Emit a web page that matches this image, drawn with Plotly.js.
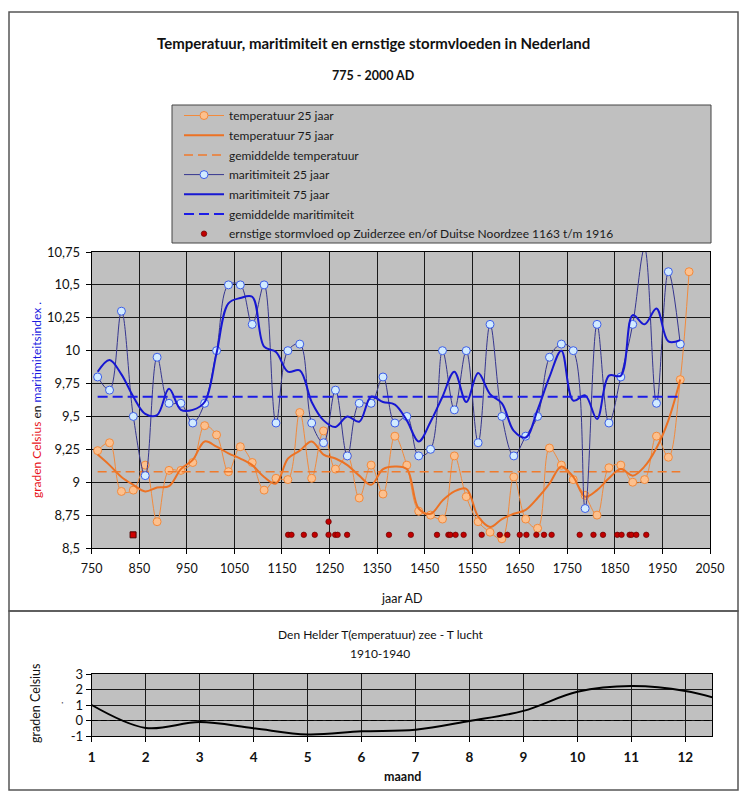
<!DOCTYPE html>
<html>
<head>
<meta charset="utf-8">
<script src="https://cdn.plot.ly/plotly-3.0.1.min.js"></script>
<style>html,body{margin:0;padding:0;background:#fff;}#chart{width:747px;height:800px;}</style>
</head>
<body>
<div id="chart"></div>
<script>
// ---------- data ----------
const years25 = [762.5, 787.5, 812.5, 837.5, 862.5, 887.5, 912.5, 937.5, 962.5, 987.5,
  1012.5, 1037.5, 1062.5, 1087.5, 1112.5, 1137.5, 1162.5, 1187.5, 1212.5, 1237.5,
  1262.5, 1287.5, 1312.5, 1337.5, 1362.5, 1387.5, 1412.5, 1437.5, 1462.5, 1487.5,
  1512.5, 1537.5, 1562.5, 1587.5, 1612.5, 1637.5, 1662.5, 1687.5, 1712.5, 1737.5,
  1762.5, 1787.5, 1812.5, 1837.5, 1862.5, 1887.5, 1912.5, 1937.5, 1962.5, 1987.5];
const tempYears = [762.5, 787.5, 812.5, 837.5, 862.5, 887.5, 912.5, 937.5, 962.5, 987.5,
  1012.5, 1037.5, 1062.5, 1087.5, 1112.5, 1137.5, 1162.5, 1187.5, 1212.5, 1237.5,
  1262.5, 1287.5, 1312.5, 1337.5, 1362.5, 1387.5, 1412.5, 1437.5, 1462.5, 1487.5,
  1512.5, 1537.5, 1562.5, 1587.5, 1612.5, 1637.5, 1662.5, 1687.5, 1712.5, 1737.5,
  1762.5, 1787.5, 1812.5, 1837.5, 1862.5, 1887.5, 1912.5, 1937.5, 1962.5, 1987.5, 2006];
const temp25 = [9.24, 9.30, 8.93, 8.94, 9.13, 8.70, 9.09, 9.09, 9.15, 9.43,
  9.36, 9.08, 9.27, 9.15, 8.94, 9.03, 9.02, 9.53, 9.03, 9.39,
  9.10, 9.20, 8.88, 9.13, 8.91, 9.35, 9.13, 8.78, 8.75, 8.72,
  9.20, 8.89, 8.70, 8.62, 8.57, 9.04, 8.72, 8.65, 9.26, 9.13,
  9.02, 8.90, 8.75, 9.11, 9.13, 9.00, 9.02, 9.35, 9.19, 9.78, 10.60];
const temp75 = [9.21, 9.13, 9.04, 8.98, 8.93, 8.96, 8.97, 9.10, 9.17, 9.31,
  9.27, 9.22, 9.18, 9.13, 9.04, 8.99, 9.18, 9.24, 9.31, 9.21,
  9.18, 9.13, 9.05, 8.98, 9.10, 9.12, 9.10, 8.80, 8.76, 8.86,
  8.93, 8.95, 8.74, 8.66, 8.72, 8.76, 8.79, 8.88, 8.99, 9.12,
  9.04, 8.89, 8.94, 9.03, 9.10, 9.05, 9.12, 9.26, 9.47, 9.78];
const mar25 = [9.80, 9.70, 10.30, 9.50, 9.05, 9.95, 9.60, 9.60, 9.45, 9.60,
  10.00, 10.50, 10.50, 10.20, 10.50, 9.45, 10.00, 10.05, 9.45, 9.30,
  9.70, 9.20, 9.60, 9.60, 9.80, 9.45, 9.50, 9.20, 9.25, 10.00,
  9.55, 10.00, 9.30, 10.20, 9.50, 9.20, 9.35, 9.50, 9.95, 10.05,
  10.00, 8.80, 10.20, 9.45, 9.80, 10.20, 10.78, 9.60, 10.60, 10.05];
const mar75 = [9.84, 9.93, 9.82, 9.65, 9.52, 9.51, 9.71, 9.55, 9.55, 9.61,
  9.98, 10.36, 10.40, 10.41, 10.03, 9.99, 9.84, 9.85, 9.61, 9.47,
  9.42, 9.50, 9.46, 9.65, 9.61, 9.59, 9.47, 9.31, 9.46, 9.65,
  9.84, 9.61, 9.83, 9.67, 9.60, 9.39, 9.34, 9.55, 9.80, 10.00,
  9.62, 9.66, 9.48, 9.81, 9.81, 10.27, 10.20, 10.32, 10.07, 10.08];
const meanYears = [762.5, 1987.5];
const tempMean = [9.08, 9.08];
const marMean = [9.65, 9.65];
const stormYears = [1163, 1170, 1196, 1219, 1248, 1248, 1262, 1267, 1287, 1375, 1421,
  1476, 1500, 1504, 1515, 1532, 1570, 1608, 1624, 1650, 1664, 1685, 1701, 1717,
  1776, 1805, 1825, 1855, 1864, 1881, 1885, 1895, 1916];
const stormValues = [8.6, 8.6, 8.6, 8.6, 8.6, 8.7, 8.6, 8.6, 8.6, 8.6, 8.6,
  8.6, 8.6, 8.6, 8.6, 8.6, 8.6, 8.6, 8.6, 8.6, 8.6, 8.6, 8.6, 8.6,
  8.6, 8.6, 8.6, 8.6, 8.6, 8.6, 8.6, 8.6, 8.6];
const squareYears = [837];
const squareValues = [8.6];
const xTickVals = [750, 850, 950, 1050, 1150, 1250, 1350, 1450, 1550, 1650, 1750, 1850, 1950, 2050];
const xTickText = ['750', '850', '950', '1050', '1150', '1250', '1350', '1450', '1550', '1650', '1750', '1850', '1950', '2050'];
const yTickVals = [8.5, 8.75, 9, 9.25, 9.5, 9.75, 10, 10.25, 10.5, 10.75];
const yTickText = ['8,5', '8,75', '9', '9,25', '9,5', '9,75', '10', '10,25', '10,5', '10,75'];
// bottom chart: Den Helder sea minus air temperature per month
const months = [1, 2, 3, 4, 5, 6, 7, 8, 9, 10, 11, 12, 13];
const seaMinusAir = [1.0, -0.48, -0.1, -0.5, -0.9, -0.7, -0.6, -0.03, 0.62, 1.85, 2.22, 1.9, 1.0];
const zeroRefX = [1, 12.5];
const zeroRefY = [0, 0];
const monthTicks = [1, 2, 3, 4, 5, 6, 7, 8, 9, 10, 11, 12];
const monthTickText = ['1', '2', '3', '4', '5', '6', '7', '8', '9', '10', '11', '12'];

// ---------- styling ----------
const FONT = 'Lato, "Liberation Sans", Arial, sans-serif';
const W = 747, H = 800;
const px = v => v / W;
const py = v => 1 - v / H;

const traces = [
  {x: tempYears, y: temp25, name: 'temperatuur 25 jaar', type: 'scatter', mode: 'lines+markers',
   line: {color: '#f28a3c', width: 1, shape: 'spline', smoothing: 1},
   marker: {size: 8, color: '#fcc08e', line: {color: '#f28a3c', width: 1}},
   cliponaxis: false, legendgroup: 'a'},
  {x: years25, y: temp75, name: 'temperatuur 75 jaar', type: 'scatter', mode: 'lines',
   line: {color: '#ec7224', width: 2, shape: 'spline', smoothing: 1}, legendgroup: 'b'},
  {x: meanYears, y: tempMean, name: 'gemiddelde temperatuur', type: 'scatter', mode: 'lines',
   line: {color: '#f07a2c', width: 1.5, dash: '9px,5px'}, legendgroup: 'c'},
  {x: years25, y: mar25, name: 'maritimiteit 25 jaar', type: 'scatter', mode: 'lines+markers',
   line: {color: '#35358f', width: 1, shape: 'spline', smoothing: 1},
   marker: {size: 8, color: '#d2ebff', line: {color: '#3d5ee8', width: 1}},
   cliponaxis: false, legendgroup: 'd'},
  {x: years25, y: mar75, name: 'maritimiteit 75 jaar', type: 'scatter', mode: 'lines',
   line: {color: '#1717d2', width: 2, shape: 'spline', smoothing: 1}, legendgroup: 'e'},
  {x: meanYears, y: marMean, name: 'gemiddelde maritimiteit', type: 'scatter', mode: 'lines',
   line: {color: '#1c1ce6', width: 2, dash: '10px,5px'}, legendgroup: 'f'},
  {x: stormYears, y: stormValues, name: 'ernstige stormvloed op Zuiderzee en/of Duitse Noordzee 1163 t/m 1916',
   type: 'scatter', mode: 'markers',
   marker: {size: 5.5, color: '#c00000', line: {color: '#6a0000', width: 0.7}}, legendgroup: 'g'},
  {x: squareYears, y: squareValues, name: 'square', type: 'scatter', mode: 'markers', showlegend: false,
   marker: {size: 6, symbol: 'square', color: '#d00000', line: {color: '#500000', width: 1}}},
  {x: months, y: seaMinusAir, xaxis: 'x2', yaxis: 'y2', type: 'scatter', mode: 'lines', showlegend: false,
   line: {color: '#000', width: 2, shape: 'spline', smoothing: 1}},
  {x: zeroRefX, y: zeroRefY, xaxis: 'x2', yaxis: 'y2', type: 'scatter', mode: 'lines', showlegend: false,
   line: {color: '#000', width: 1.2, dash: '6px,3px'}}
];

const axisCommon = {
  showgrid: true, gridcolor: '#1a1a1a', gridwidth: 1,
  showline: true, linecolor: '#000', linewidth: 1, mirror: true,
  ticks: 'outside', ticklen: 5, tickcolor: '#000', tickwidth: 1,
  zeroline: false, fixedrange: true,
  tickfont: {family: FONT, size: 12.5, color: '#111'}
};

const layout = {
  width: W, height: H,
  margin: {l: 0, r: 0, t: 0, b: 0},
  paper_bgcolor: '#fff', plot_bgcolor: '#c0c0c0',
  font: {family: FONT, color: '#111'},
  showlegend: true,
  legend: {x: px(179), y: py(101), xanchor: 'left', yanchor: 'top', itemwidth: 40,
    bgcolor: 'rgba(0,0,0,0)', borderwidth: 0, tracegroupgap: 0.7,
    font: {family: FONT, size: 12, color: '#1a1a1a'}},
  xaxis: Object.assign({}, axisCommon, {domain: [px(91.7), px(710)], range: [750, 2050],
    tickmode: 'array', tickvals: xTickVals, ticktext: xTickText, anchor: 'y', ticklabelstandoff: 4}),
  yaxis: Object.assign({}, axisCommon, {domain: [py(548), py(252)], range: [8.5, 10.75],
    tickmode: 'array', tickvals: yTickVals, ticktext: yTickText, anchor: 'x', ticklabelstandoff: 3,
    tickfont: {family: FONT, size: 13, color: '#111'}}),
  xaxis2: Object.assign({}, axisCommon, {domain: [px(91.7), px(712.3)], range: [1, 12.5],
    tickmode: 'array', tickvals: monthTicks, ticktext: monthTickText, anchor: 'y2', ticklabelstandoff: 4,
    tickfont: {family: FONT, size: 13.5, color: '#111', weight: 'bold'}}),
  yaxis2: Object.assign({}, axisCommon, {domain: [py(736), py(674)], range: [-1, 3],
    tickmode: 'array', tickvals: [-1, 0, 1, 2, 3], ticktext: ['-1', '0', '1', '2', '3'], anchor: 'x2',
    tickfont: {family: FONT, size: 13, color: '#111'}}),
  shapes: [
    {type: 'rect', xref: 'paper', yref: 'paper', x0: px(9), x1: px(738), y0: py(611), y1: py(12),
     line: {color: '#555', width: 1.5}, fillcolor: 'rgba(0,0,0,0)', layer: 'below'},
    {type: 'rect', xref: 'paper', yref: 'paper', x0: px(9), x1: px(738), y0: py(790), y1: py(611),
     line: {color: '#555', width: 1.5}, fillcolor: 'rgba(0,0,0,0)', layer: 'below'},
    {type: 'rect', xref: 'paper', yref: 'paper', x0: px(172), x1: px(711), y0: py(243), y1: py(105),
     line: {color: '#444', width: 1}, fillcolor: '#c0c0c0', layer: 'below'}
  ],
  annotations: [
    {text: '<b>Temperatuur, maritimiteit en ernstige stormvloeden in Nederland</b>', xref: 'paper', yref: 'paper',
     x: 0.5, y: py(43), showarrow: false, xanchor: 'center', yanchor: 'middle',
     font: {family: FONT, size: 15, color: '#111'}},
    {text: '<b>775 - 2000 AD</b>', xref: 'paper', yref: 'paper', x: 0.5, y: py(75), showarrow: false,
     xanchor: 'center', yanchor: 'middle', font: {family: FONT, size: 12.5, color: '#111'}},
    {text: 'jaar AD', xref: 'paper', yref: 'paper', x: px(401), y: py(598), showarrow: false,
     xanchor: 'center', yanchor: 'middle', font: {family: FONT, size: 12.5, color: '#111'}},
    {text: '<span style="color:#e8141c">graden Celsius</span> en <span style="color:#1a1ae0">maritimiteitsindex .</span>',
     xref: 'paper', yref: 'paper', x: px(36), y: py(400), showarrow: false, textangle: -90,
     xanchor: 'center', yanchor: 'middle', font: {family: FONT, size: 12, color: '#111'}},
    {text: 'Den Helder T(emperatuur) zee - T lucht', xref: 'paper', yref: 'paper', x: px(380), y: py(634),
     showarrow: false, xanchor: 'center', yanchor: 'middle', font: {family: FONT, size: 12, color: '#111'}},
    {text: '1910-1940', xref: 'paper', yref: 'paper', x: px(380), y: py(653),
     showarrow: false, xanchor: 'center', yanchor: 'middle', font: {family: FONT, size: 12, color: '#111'}},
    {text: 'graden Celsius', xref: 'paper', yref: 'paper', x: px(35), y: py(703), showarrow: false,
     textangle: -90, xanchor: 'center', yanchor: 'middle', font: {family: FONT, size: 12.5, color: '#111'}},
    {text: '.', xref: 'paper', yref: 'paper', x: px(59), y: py(703), showarrow: false,
     textangle: -90, xanchor: 'center', yanchor: 'middle', font: {family: FONT, size: 10, color: '#111'}},
    {text: '<b>maand</b>', xref: 'paper', yref: 'paper', x: px(402), y: py(776), showarrow: false,
     xanchor: 'center', yanchor: 'middle', font: {family: FONT, size: 12.5, color: '#111'}}
  ]
};

Plotly.newPlot('chart', traces, layout, {displayModeBar: false, staticPlot: true});
</script>
</body>
</html>
